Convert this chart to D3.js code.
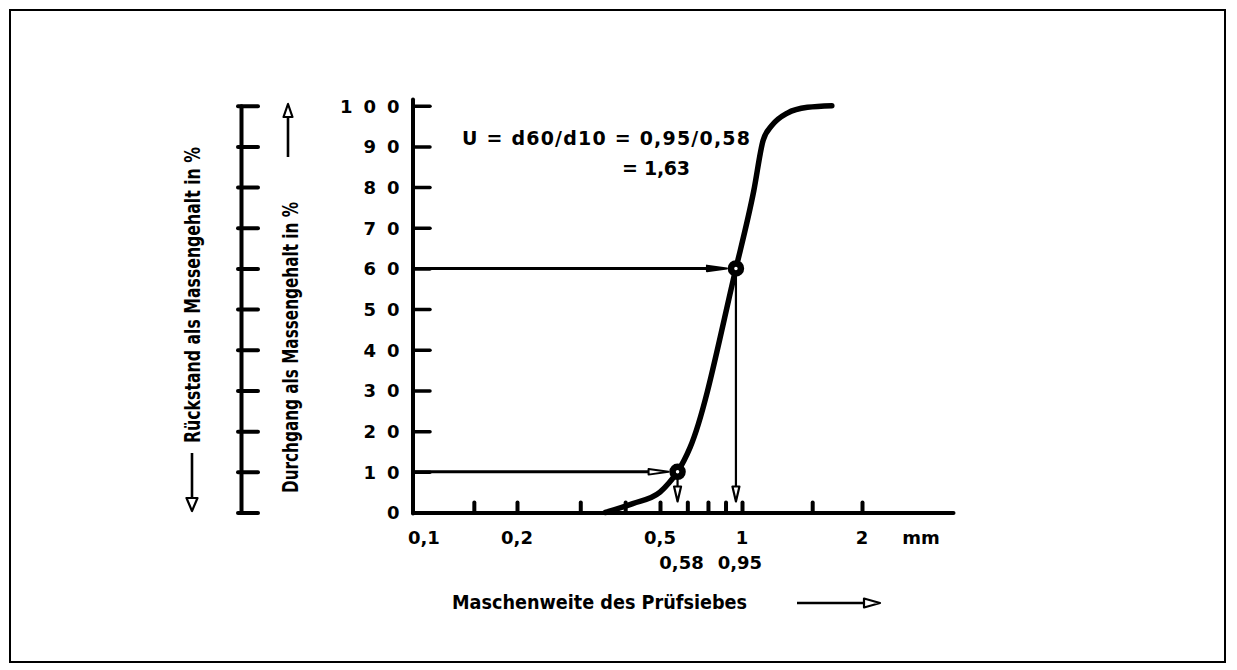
<!DOCTYPE html>
<html><head><meta charset="utf-8">
<script src="https://cdn.jsdelivr.net/npm/d3@7"></script>
<style>
html,body{margin:0;padding:0;background:#fff;}
svg{display:block;}
text{font-family:"DejaVu Sans",sans-serif;font-weight:bold;fill:#000;}
</style></head><body>
<svg id="chart" width="1237" height="670"></svg>
<script>
// ---- data ----
const sieveSizes = [0.352, 0.42, 0.5, 0.54, 0.58, 0.645, 0.95, 1.07, 1.13, 1.19, 1.30, 1.46, 1.68];
const passingPct = [0, 2.2, 5, 7.3, 10, 16, 60, 79, 91.5, 95.2, 98.2, 99.6, 100];
const yTickValues = [0, 10, 20, 30, 40, 50, 60, 70, 80, 90, 100];
const xTickValues = [0.15, 0.2, 0.3, 0.4, 0.5, 0.63, 0.75, 0.87, 1, 1.5, 2];
const xLabelValues = [0.1, 0.2, 0.5, 1, 2];
const xLabelTexts = ["0,1", "0,2", "0,5", "1", "2"];
const dSizes = [0.58, 0.95];
const dPercents = [10, 60];
const dLabels = ["0,58", "0,95"];
const unitLabel = "mm";
const xTitle = "Maschenweite des Prüfsiebes";
const yTitlePass = "Durchgang als Massengehalt in %";
const yTitleResid = "Rückstand als Massengehalt in %";
const formulaLines = ["U = d60/d10 = 0,95/0,58", "= 1,63"];

// ---- scales ----
const x = d3.scaleLog().domain([0.1, 0.2, 0.5, 1, 2, 3.4]).range([413, 517, 660, 742, 862, 953]);
const y = d3.scaleLinear().domain([0, 100]).range([512.5, 105.7]);

const svg = d3.select("#chart");

// frame
svg.append("rect").attr("x", 10).attr("y", 10).attr("width", 1215).attr("height", 652)
  .attr("fill", "none").attr("stroke", "#000").attr("stroke-width", 2);

function styleAxis(g, w, tw) {
  g.select(".domain").attr("stroke", "#000").attr("stroke-width", w).attr("stroke-linecap", "round");
  g.selectAll(".tick line").attr("stroke", "#000").attr("stroke-width", tw).attr("stroke-linecap", "round");
}

// left (residue) axis
const gL = svg.append("g").attr("transform", "translate(241,0)")
  .call(d3.axisRight(y).tickValues(yTickValues).tickSize(17).tickSizeOuter(0).tickFormat(""));
styleAxis(gL, 4, 4);
gL.selectAll(".tick line").attr("x1", -3);

// main y axis
const gY = svg.append("g").attr("transform", "translate(413,0)")
  .call(d3.axisLeft(y).tickValues(yTickValues).tickSize(-17).tickSizeOuter(0).tickPadding(11)
    .tickFormat(d => String(d).split("").join(" ")));
styleAxis(gY, 4, 3.5);
gY.select(".domain").remove();
gY.append("line").attr("x1", 0).attr("x2", 0).attr("y1", y(0) + 1).attr("y2", y(101.5))
  .attr("stroke", "#000").attr("stroke-width", 4).attr("stroke-linecap", "round");
gY.selectAll(".tick text").attr("font-size", 18).attr("letter-spacing", 2.4)
  .attr("font-family", "DejaVu Sans").attr("font-weight", "bold").attr("fill", "#000")
  .attr("dy", "0.36em");

// x axis
const gX = svg.append("g").attr("transform", `translate(0,${y(0)})`)
  .call(d3.axisBottom(x).tickValues(xTickValues).tickSize(-10).tickSizeOuter(0).tickFormat(""));
styleAxis(gX, 4, 4);

// x labels
svg.append("g").selectAll("text").data(xLabelValues).join("text")
  .attr("x", (d, i) => i === 0 ? x(d) - 5 : x(d))
  .attr("y", 544)
  .attr("text-anchor", (d, i) => i === 0 ? "start" : "middle")
  .attr("font-size", 18)
  .text((d, i) => xLabelTexts[i]);
svg.append("text").attr("x", 921).attr("y", 544).attr("text-anchor", "middle")
  .attr("font-size", 18).text(unitLabel);

// d labels
svg.append("g").selectAll("text").data(dSizes).join("text")
  .attr("x", d => x(d) + 4).attr("y", 569).attr("text-anchor", "middle")
  .attr("font-size", 18).text((d, i) => dLabels[i]);

// curve
const pts = sieveSizes.map((s, i) => [s, passingPct[i]]);
svg.append("path").datum(pts)
  .attr("d", d3.line().x(d => x(d[0])).y(d => y(d[1])).curve(d3.curveMonotoneX))
  .attr("fill", "none").attr("stroke", "#000").attr("stroke-width", 5.5)
  .attr("stroke-linecap", "round").attr("stroke-linejoin", "round");

// arrowhead helper
function arrowHead(tx, ty, dir, len, hw, fill, sw) {
  let p;
  if (dir === "right") p = [[tx, ty], [tx - len, ty - hw], [tx - len, ty + hw]];
  else if (dir === "down") p = [[tx, ty], [tx - hw, ty - len], [tx + hw, ty - len]];
  else if (dir === "up") p = [[tx, ty], [tx - hw, ty + len], [tx + hw, ty + len]];
  svg.append("path").attr("d", "M" + p.map(q => q.join(",")).join("L") + "Z")
    .attr("fill", fill).attr("stroke", "#000").attr("stroke-width", sw).attr("stroke-linejoin", "round");
}

// guide arrows for d10/d60
dSizes.forEach((s, i) => {
  const cx = x(s), cy = y(dPercents[i]);
  const tipX = cx - 9;
  svg.append("line").attr("x1", x(0.1)).attr("x2", tipX - 18).attr("y1", cy).attr("y2", cy)
    .attr("stroke", "#000").attr("stroke-width", 3);
  arrowHead(tipX, cy, "right", 20, 2.8, i === 1 ? "#000" : "#fff", 2);
  const tipY = y(0) - 11;
  svg.append("line").attr("x1", cx).attr("x2", cx).attr("y1", cy + 6).attr("y2", tipY - 14)
    .attr("stroke", "#000").attr("stroke-width", 2.2);
  arrowHead(cx, tipY, "down", 15, 3.5, "#fff", 2.2);
});

// markers
svg.append("g").selectAll("circle").data(dSizes).join("circle")
  .attr("cx", d => x(d)).attr("cy", (d, i) => y(dPercents[i])).attr("r", 5)
  .attr("fill", "#fff").attr("stroke", "#000").attr("stroke-width", 6.5);

// formula
svg.append("text").attr("x", 462).attr("y", 145).attr("font-size", 19)
  .attr("textLength", 288).attr("lengthAdjust", "spacing").text(formulaLines[0]);
svg.append("text").attr("x", 622).attr("y", 175).attr("font-size", 19)
  .attr("textLength", 68).attr("lengthAdjust", "spacing").text(formulaLines[1]);

// x title + arrow
svg.append("text").attr("x", 452).attr("y", 609).attr("font-size", 19)
  .attr("textLength", 295).attr("lengthAdjust", "spacingAndGlyphs").text(xTitle);
svg.append("line").attr("x1", 797).attr("x2", 864).attr("y1", 603).attr("y2", 603)
  .attr("stroke", "#000").attr("stroke-width", 2.4);
arrowHead(880, 603, "right", 16, 4.5, "#fff", 2.2);

// rotated y titles
svg.append("text").attr("transform", "translate(298,347.5) rotate(-90)")
  .attr("text-anchor", "middle").attr("font-size", 21)
  .attr("textLength", 291).attr("lengthAdjust", "spacingAndGlyphs").text(yTitlePass);
svg.append("text").attr("transform", "translate(200,295) rotate(-90)")
  .attr("text-anchor", "middle").attr("font-size", 21)
  .attr("textLength", 296).attr("lengthAdjust", "spacingAndGlyphs").text(yTitleResid);

// direction arrows for y titles
svg.append("line").attr("x1", 288).attr("x2", 288).attr("y1", 157).attr("y2", 117)
  .attr("stroke", "#000").attr("stroke-width", 2.6);
arrowHead(288, 104, "up", 13, 4.5, "#fff", 2.2);
svg.append("line").attr("x1", 192).attr("x2", 192).attr("y1", 453).attr("y2", 498)
  .attr("stroke", "#000").attr("stroke-width", 2.6);
arrowHead(192, 511, "down", 13, 5.5, "#fff", 2.2);
</script>
</body></html>
